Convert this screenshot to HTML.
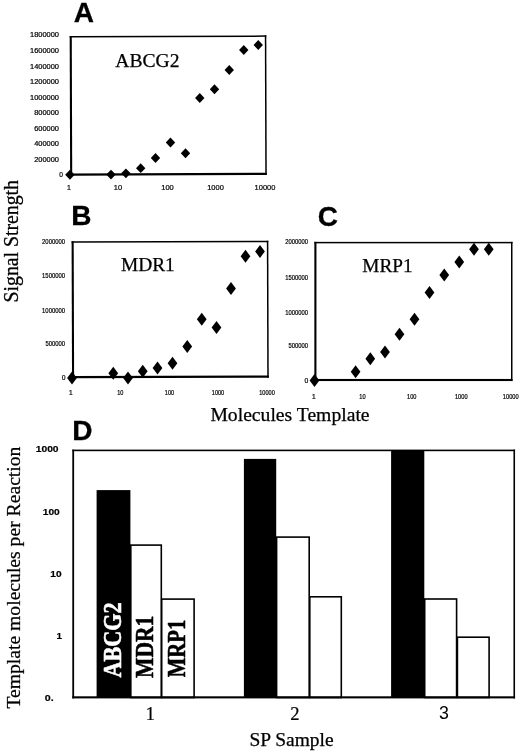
<!DOCTYPE html>
<html lang="en"><head><meta charset="utf-8"><title>Figure: ABCG2, MDR1, MRP1 signal strength</title>
<style>html,body{margin:0;padding:0;background:#fff}svg{display:block;filter:grayscale(1);will-change:transform}.ss{font-family:'Liberation Sans', Arial, Helvetica, sans-serif}.sr{font-family:'Liberation Serif', 'Times New Roman', Times, serif}</style>
</head><body>
<svg width="520" height="752" viewBox="0 0 520 752">
<rect width="520" height="752" fill="#fff"/>
<g id="panelA">
<text class="ss" x="73.7" y="21.8" font-size="28" text-anchor="start" font-weight="bold" stroke="#000" stroke-width="0.3" stroke-linejoin="round">A</text>
<g transform="rotate(-0.19 168.4 105.3)"><rect x="69.90" y="35.70" width="2.1" height="139.65"/><rect x="69.90" y="35.70" width="196.65" height="1.5"/><rect x="265.05" y="35.70" width="1.5" height="139.65"/><rect x="69.90" y="173.15" width="196.65" height="2.2"/></g>
<text class="ss" x="59" y="37.4" font-size="6.6" text-anchor="end" stroke="#000" stroke-width="0.2" stroke-linejoin="round" textLength="29.0" lengthAdjust="spacingAndGlyphs">1800000</text>
<text class="ss" x="59" y="52.9" font-size="6.6" text-anchor="end" stroke="#000" stroke-width="0.2" stroke-linejoin="round" textLength="29.0" lengthAdjust="spacingAndGlyphs">1600000</text>
<text class="ss" x="59" y="68.65" font-size="6.6" text-anchor="end" stroke="#000" stroke-width="0.2" stroke-linejoin="round" textLength="29.0" lengthAdjust="spacingAndGlyphs">1400000</text>
<text class="ss" x="59" y="83.65" font-size="6.6" text-anchor="end" stroke="#000" stroke-width="0.2" stroke-linejoin="round" textLength="29.0" lengthAdjust="spacingAndGlyphs">1200000</text>
<text class="ss" x="59" y="99.9" font-size="6.6" text-anchor="end" stroke="#000" stroke-width="0.2" stroke-linejoin="round" textLength="29.0" lengthAdjust="spacingAndGlyphs">1000000</text>
<text class="ss" x="59" y="114.9" font-size="6.6" text-anchor="end" stroke="#000" stroke-width="0.2" stroke-linejoin="round" textLength="24.8" lengthAdjust="spacingAndGlyphs">800000</text>
<text class="ss" x="59" y="131.15" font-size="6.6" text-anchor="end" stroke="#000" stroke-width="0.2" stroke-linejoin="round" textLength="24.8" lengthAdjust="spacingAndGlyphs">600000</text>
<text class="ss" x="59" y="146.15" font-size="6.6" text-anchor="end" stroke="#000" stroke-width="0.2" stroke-linejoin="round" textLength="24.8" lengthAdjust="spacingAndGlyphs">400000</text>
<text class="ss" x="59" y="161.65" font-size="6.6" text-anchor="end" stroke="#000" stroke-width="0.2" stroke-linejoin="round" textLength="24.8" lengthAdjust="spacingAndGlyphs">200000</text>
<text class="ss" x="62.9" y="176.9" font-size="6.6" text-anchor="end" stroke="#000" stroke-width="0.2" stroke-linejoin="round">0</text>
<text class="ss" x="69" y="189.9" font-size="7.0" text-anchor="middle" stroke="#000" stroke-width="0.2" stroke-linejoin="round">1</text>
<text class="ss" x="117.9" y="189.9" font-size="7.0" text-anchor="middle" stroke="#000" stroke-width="0.2" stroke-linejoin="round" textLength="8.3" lengthAdjust="spacingAndGlyphs">10</text>
<text class="ss" x="167.5" y="189.9" font-size="7.0" text-anchor="middle" stroke="#000" stroke-width="0.2" stroke-linejoin="round" textLength="12.5" lengthAdjust="spacingAndGlyphs">100</text>
<text class="ss" x="215.5" y="189.9" font-size="7.0" text-anchor="middle" stroke="#000" stroke-width="0.2" stroke-linejoin="round" textLength="16.6" lengthAdjust="spacingAndGlyphs">1000</text>
<text class="ss" x="265" y="189.9" font-size="7.0" text-anchor="middle" stroke="#000" stroke-width="0.2" stroke-linejoin="round" textLength="20.8" lengthAdjust="spacingAndGlyphs">10000</text>
<text class="sr" x="115.3" y="67" font-size="19.5" text-anchor="start" stroke="#000" stroke-width="0.25" stroke-linejoin="round" textLength="64.2" lengthAdjust="spacingAndGlyphs">ABCG2</text>
<g>
<polygon points="65.20,174.75 69.90,169.85 74.60,174.75 69.90,179.65"/>
<polygon points="106.30,174.60 111.00,169.70 115.70,174.60 111.00,179.50"/>
<polygon points="121.20,173.30 125.90,168.40 130.60,173.30 125.90,178.20"/>
<polygon points="136.00,168.20 140.70,163.30 145.40,168.20 140.70,173.10"/>
<polygon points="150.80,158.00 155.50,153.10 160.20,158.00 155.50,162.90"/>
<polygon points="165.80,142.50 170.50,137.60 175.20,142.50 170.50,147.40"/>
<polygon points="180.80,153.25 185.50,148.35 190.20,153.25 185.50,158.15"/>
<polygon points="195.05,98.00 199.75,93.10 204.45,98.00 199.75,102.90"/>
<polygon points="209.80,89.25 214.50,84.35 219.20,89.25 214.50,94.15"/>
<polygon points="224.55,70.00 229.25,65.10 233.95,70.00 229.25,74.90"/>
<polygon points="239.05,50.00 243.75,45.10 248.45,50.00 243.75,54.90"/>
<polygon points="253.55,45.00 258.25,40.10 262.95,45.00 258.25,49.90"/>
</g></g>
<g id="panelB">
<text class="ss" x="71.3" y="225.4" font-size="28" text-anchor="start" font-weight="bold" stroke="#000" stroke-width="0.3" stroke-linejoin="round">B</text>
<g transform="rotate(-0.18 170.3 309.3)"><rect x="71.80" y="240.95" width="2.1" height="137.00"/><rect x="71.80" y="240.95" width="196.75" height="1.5"/><rect x="267.05" y="240.95" width="1.5" height="137.00"/><rect x="71.80" y="375.75" width="196.75" height="2.2"/></g>
<text class="ss" x="65.0" y="243.7" font-size="6.8" text-anchor="end" stroke="#000" stroke-width="0.2" stroke-linejoin="round" textLength="22.9" lengthAdjust="spacingAndGlyphs">2000000</text>
<text class="ss" x="65.0" y="278.25" font-size="6.8" text-anchor="end" stroke="#000" stroke-width="0.2" stroke-linejoin="round" textLength="22.9" lengthAdjust="spacingAndGlyphs">1500000</text>
<text class="ss" x="65.0" y="312.95" font-size="6.8" text-anchor="end" stroke="#000" stroke-width="0.2" stroke-linejoin="round" textLength="22.9" lengthAdjust="spacingAndGlyphs">1000000</text>
<text class="ss" x="65.0" y="345.65" font-size="6.8" text-anchor="end" stroke="#000" stroke-width="0.2" stroke-linejoin="round" textLength="19.6" lengthAdjust="spacingAndGlyphs">500000</text>
<text class="ss" x="65.6" y="379.95" font-size="6.8" text-anchor="end" stroke="#000" stroke-width="0.2" stroke-linejoin="round">0</text>
<text class="ss" x="70.75" y="395.2" font-size="6.6" text-anchor="middle" stroke="#000" stroke-width="0.2" stroke-linejoin="round">1</text>
<text class="ss" x="120.25" y="395.2" font-size="6.6" text-anchor="middle" stroke="#000" stroke-width="0.2" stroke-linejoin="round" textLength="6.2" lengthAdjust="spacingAndGlyphs">10</text>
<text class="ss" x="169.5" y="395.2" font-size="6.6" text-anchor="middle" stroke="#000" stroke-width="0.2" stroke-linejoin="round" textLength="9.3" lengthAdjust="spacingAndGlyphs">100</text>
<text class="ss" x="218" y="395.2" font-size="6.6" text-anchor="middle" stroke="#000" stroke-width="0.2" stroke-linejoin="round" textLength="12.4" lengthAdjust="spacingAndGlyphs">1000</text>
<text class="ss" x="267" y="395.2" font-size="6.6" text-anchor="middle" stroke="#000" stroke-width="0.2" stroke-linejoin="round" textLength="15.5" lengthAdjust="spacingAndGlyphs">10000</text>
<text class="sr" x="121.0" y="271.25" font-size="19.2" text-anchor="start" stroke="#000" stroke-width="0.25" stroke-linejoin="round" textLength="53.8" lengthAdjust="spacingAndGlyphs">MDR1</text>
<g>
<polygon points="67.15,378.00 72.00,371.60 76.85,378.00 72.00,384.40"/>
<polygon points="108.40,373.25 113.25,366.85 118.10,373.25 113.25,379.65"/>
<polygon points="123.15,378.00 128.00,371.60 132.85,378.00 128.00,384.40"/>
<polygon points="137.90,371.25 142.75,364.85 147.60,371.25 142.75,377.65"/>
<polygon points="152.65,368.00 157.50,361.60 162.35,368.00 157.50,374.40"/>
<polygon points="167.65,363.25 172.50,356.85 177.35,363.25 172.50,369.65"/>
<polygon points="182.40,346.50 187.25,340.10 192.10,346.50 187.25,352.90"/>
<polygon points="196.90,319.25 201.75,312.85 206.60,319.25 201.75,325.65"/>
<polygon points="211.65,327.50 216.50,321.10 221.35,327.50 216.50,333.90"/>
<polygon points="226.15,288.50 231.00,282.10 235.85,288.50 231.00,294.90"/>
<polygon points="240.65,256.25 245.50,249.85 250.35,256.25 245.50,262.65"/>
<polygon points="255.15,251.50 260.00,245.10 264.85,251.50 260.00,257.90"/>
</g></g>
<g id="panelC">
<text class="ss" x="317.7" y="225.8" font-size="28" text-anchor="start" font-weight="bold" stroke="#000" stroke-width="0.3" stroke-linejoin="round">C</text>
<rect x="314.35" y="241.85" width="2.1" height="139.20"/><rect x="314.35" y="241.85" width="198.15" height="1.5"/><rect x="511.00" y="241.85" width="1.5" height="139.20"/><rect x="314.35" y="378.95" width="198.15" height="2.1"/>
<text class="ss" x="308" y="244.2" font-size="6.8" text-anchor="end" stroke="#000" stroke-width="0.2" stroke-linejoin="round" textLength="22.8" lengthAdjust="spacingAndGlyphs">2000000</text>
<text class="ss" x="308" y="279.75" font-size="6.8" text-anchor="end" stroke="#000" stroke-width="0.2" stroke-linejoin="round" textLength="22.8" lengthAdjust="spacingAndGlyphs">1500000</text>
<text class="ss" x="308" y="314.7" font-size="6.8" text-anchor="end" stroke="#000" stroke-width="0.2" stroke-linejoin="round" textLength="22.8" lengthAdjust="spacingAndGlyphs">1000000</text>
<text class="ss" x="308" y="347.75" font-size="6.8" text-anchor="end" stroke="#000" stroke-width="0.2" stroke-linejoin="round" textLength="19.5" lengthAdjust="spacingAndGlyphs">500000</text>
<text class="ss" x="308.4" y="382.55" font-size="6.8" text-anchor="end" stroke="#000" stroke-width="0.2" stroke-linejoin="round">0</text>
<text class="ss" x="313.75" y="398.8" font-size="6.6" text-anchor="middle" stroke="#000" stroke-width="0.2" stroke-linejoin="round">1</text>
<text class="ss" x="362.5" y="398.8" font-size="6.6" text-anchor="middle" stroke="#000" stroke-width="0.2" stroke-linejoin="round" textLength="6.3" lengthAdjust="spacingAndGlyphs">10</text>
<text class="ss" x="411.75" y="398.8" font-size="6.6" text-anchor="middle" stroke="#000" stroke-width="0.2" stroke-linejoin="round" textLength="9.4" lengthAdjust="spacingAndGlyphs">100</text>
<text class="ss" x="461.25" y="398.8" font-size="6.6" text-anchor="middle" stroke="#000" stroke-width="0.2" stroke-linejoin="round" textLength="12.6" lengthAdjust="spacingAndGlyphs">1000</text>
<text class="ss" x="510.75" y="398.8" font-size="6.6" text-anchor="middle" stroke="#000" stroke-width="0.2" stroke-linejoin="round" textLength="15.8" lengthAdjust="spacingAndGlyphs">10000</text>
<text class="sr" x="362.3" y="271.9" font-size="19.2" text-anchor="start" stroke="#000" stroke-width="0.25" stroke-linejoin="round" textLength="50.2" lengthAdjust="spacingAndGlyphs">MRP1</text>
<g>
<polygon points="309.65,380.50 314.50,374.10 319.35,380.50 314.50,386.90"/>
<polygon points="350.75,371.75 355.60,365.35 360.45,371.75 355.60,378.15"/>
<polygon points="365.45,358.75 370.30,352.35 375.15,358.75 370.30,365.15"/>
<polygon points="380.15,352.00 385.00,345.60 389.85,352.00 385.00,358.40"/>
<polygon points="394.65,334.25 399.50,327.85 404.35,334.25 399.50,340.65"/>
<polygon points="409.65,319.25 414.50,312.85 419.35,319.25 414.50,325.65"/>
<polygon points="424.65,292.50 429.50,286.10 434.35,292.50 429.50,298.90"/>
<polygon points="439.40,275.00 444.25,268.60 449.10,275.00 444.25,281.40"/>
<polygon points="454.40,262.00 459.25,255.60 464.10,262.00 459.25,268.40"/>
<polygon points="469.15,249.25 474.00,242.85 478.85,249.25 474.00,255.65"/>
<polygon points="483.90,249.25 488.75,242.85 493.60,249.25 488.75,255.65"/>
</g></g>
<text class="sr" transform="translate(17.6 302.4) rotate(-90)" font-size="21" stroke="#000" stroke-width="0.3" stroke-linejoin="round" textLength="122.4" lengthAdjust="spacingAndGlyphs">Signal Strength</text>
<text class="sr" x="210.4" y="420.6" font-size="19.4" text-anchor="start" stroke="#000" stroke-width="0.25" stroke-linejoin="round" textLength="159.2" lengthAdjust="spacingAndGlyphs">Molecules Template</text>
<g id="panelD">
<text class="ss" x="72.3" y="440.4" font-size="28" text-anchor="start" font-weight="bold" stroke="#000" stroke-width="0.3" stroke-linejoin="round">D</text>
<rect x="96.6" y="490.1" width="33.80" height="207.40"/>
<rect x="130.80" y="545.10" width="30.50" height="152.40" fill="#fff" stroke="#000" stroke-width="1.6"/>
<rect x="161.70" y="599.10" width="32.40" height="98.40" fill="#fff" stroke="#000" stroke-width="1.6"/>
<rect x="243.9" y="458.9" width="32.30" height="238.60"/>
<rect x="276.60" y="537.10" width="32.60" height="160.40" fill="#fff" stroke="#000" stroke-width="1.6"/>
<rect x="309.80" y="596.80" width="31.50" height="100.70" fill="#fff" stroke="#000" stroke-width="1.6"/>
<rect x="391.1" y="450" width="33.20" height="247.50"/>
<rect x="424.70" y="599.00" width="31.90" height="98.50" fill="#fff" stroke="#000" stroke-width="1.6"/>
<rect x="457.40" y="637.20" width="31.70" height="60.30" fill="#fff" stroke="#000" stroke-width="1.6"/>
<rect x="72.30" y="449.60" width="1.8" height="248.80"/><rect x="72.30" y="449.60" width="442.75" height="1.6"/><rect x="513.45" y="449.60" width="1.6" height="248.80"/><rect x="72.30" y="696.30" width="442.75" height="2.1"/>
<text class="ss" x="58.6" y="452.0" font-size="9.9" text-anchor="end" font-weight="bold" stroke="#000" stroke-width="0.2" stroke-linejoin="round" textLength="22.9" lengthAdjust="spacingAndGlyphs">1000</text>
<text class="ss" x="59.8" y="514.9" font-size="9.9" text-anchor="end" font-weight="bold" stroke="#000" stroke-width="0.2" stroke-linejoin="round" textLength="17.0" lengthAdjust="spacingAndGlyphs">100</text>
<text class="ss" x="61.6" y="576.8" font-size="9.9" text-anchor="end" font-weight="bold" stroke="#000" stroke-width="0.2" stroke-linejoin="round" textLength="11.3" lengthAdjust="spacingAndGlyphs">10</text>
<text class="ss" x="62.0" y="639.3" font-size="9.9" text-anchor="end" font-weight="bold" stroke="#000" stroke-width="0.2" stroke-linejoin="round">1</text>
<text class="ss" x="44.8" y="700.9" font-size="9.9" text-anchor="start" font-weight="bold" stroke="#000" stroke-width="0.2" stroke-linejoin="round" textLength="8.9" lengthAdjust="spacingAndGlyphs">0.</text>
<text class="sr" x="150.4" y="720.0" font-size="19.2" text-anchor="middle" stroke="#000" stroke-width="0.2" stroke-linejoin="round">1</text>
<text class="sr" x="295.0" y="719.5" font-size="18.6" text-anchor="middle" stroke="#000" stroke-width="0.2" stroke-linejoin="round">2</text>
<text class="ss" x="444.0" y="719.3" font-size="17.8" text-anchor="middle">3</text>
<text class="sr" x="249.4" y="745.6" font-size="19" text-anchor="start" stroke="#000" stroke-width="0.25" stroke-linejoin="round" textLength="84.2" lengthAdjust="spacingAndGlyphs">SP Sample</text>
<text class="sr" transform="translate(20 708.6) rotate(-90)" font-size="19.6" stroke="#000" stroke-width="0.25" stroke-linejoin="round" textLength="262" lengthAdjust="spacingAndGlyphs">Template molecules per Reaction</text>
<text class="sr" transform="translate(121.0 677.6) rotate(-90)" font-size="24.3" font-weight="bold" fill="#fff" stroke="#fff" stroke-width="0.55" stroke-linejoin="round" textLength="75.2" lengthAdjust="spacingAndGlyphs">ABCG2</text>
<text class="sr" transform="translate(153.3 678.0) rotate(-90)" font-size="24.3" font-weight="bold" stroke="#000" stroke-width="0.55" stroke-linejoin="round" textLength="62.4" lengthAdjust="spacingAndGlyphs">MDR1</text>
<text class="sr" transform="translate(184.6 677.2) rotate(-90)" font-size="24.3" font-weight="bold" stroke="#000" stroke-width="0.55" stroke-linejoin="round" textLength="57.6" lengthAdjust="spacingAndGlyphs">MRP1</text>
</g>
</svg>
</body></html>
